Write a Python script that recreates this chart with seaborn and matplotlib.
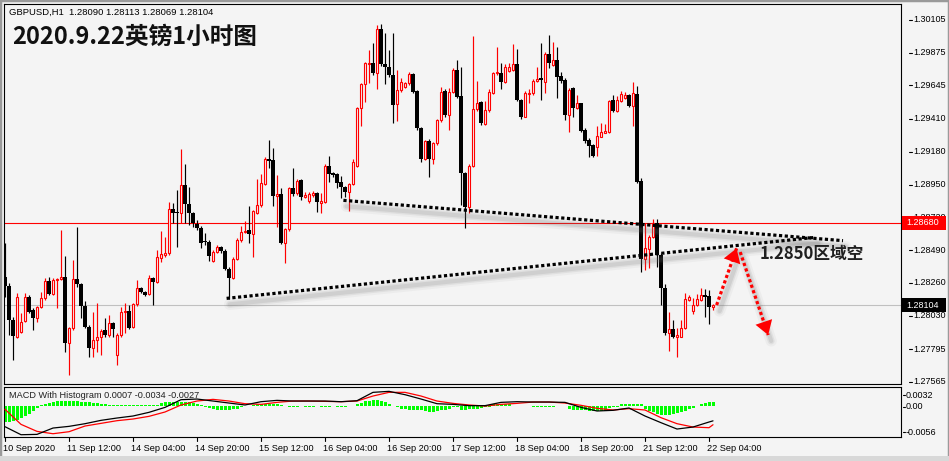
import matplotlib
matplotlib.use("Agg")
import matplotlib.pyplot as plt
import matplotlib.transforms as mtransforms
from matplotlib.patches import Rectangle
import numpy as np
import pandas as pd
import seaborn as sns

# ------------------------------------------------------------------ data
OPEN = [1.28298, 1.28238, 1.27999, 1.27882, 1.27912, 1.27994, 1.28158, 1.28069, 1.28015, 1.28088,
        1.28151, 1.28273, 1.28182, 1.28278, 1.28289, 1.28303, 1.27835, 1.27941, 1.28285, 1.28249,
        1.28097, 1.27952, 1.27805, 1.27859, 1.27877, 1.27929, 1.27894, 1.27976, 1.27753, 1.27894,
        1.28053, 1.28062, 1.27952, 1.28109, 1.28221, 1.28198, 1.28182, 1.28292, 1.28268, 1.28432,
        1.28455, 1.28467, 1.28776, 1.28755, 1.28748, 1.28947, 1.28811, 1.28748, 1.28673, 1.28643,
        1.28556, 1.28549, 1.28416, 1.28474, 1.28509, 1.28486, 1.28359, 1.28296, 1.28425, 1.28561,
        1.28617, 1.28631, 1.28600, 1.28753, 1.28804, 1.28951, 1.29127, 1.29122, 1.28870, 1.28883,
        1.28537, 1.28636, 1.28926, 1.28888, 1.28982, 1.28865, 1.28834, 1.28877, 1.28893, 1.28823,
        1.28830, 1.29082, 1.29029, 1.29024, 1.28965, 1.28930, 1.28900, 1.28954, 1.29082, 1.29485,
        1.29656, 1.29796, 1.29806, 1.29731, 1.30040, 1.29794, 1.29777, 1.29717, 1.29513, 1.29614,
        1.29632, 1.29660, 1.29726, 1.29607, 1.29345, 1.29127, 1.29258, 1.29127, 1.29239, 1.29403,
        1.29609, 1.29438, 1.29602, 1.29754, 1.29572, 1.29033, 1.28790, 1.29082, 1.29478, 1.29529,
        1.29375, 1.29473, 1.29595, 1.29731, 1.29731, 1.29672, 1.29747, 1.29754, 1.29796, 1.29543,
        1.29426, 1.29586, 1.29590, 1.29677, 1.29700, 1.29672, 1.29866, 1.29789, 1.29824, 1.29712,
        1.29684, 1.29438, 1.29625, 1.29485, 1.29520, 1.29333, 1.29263, 1.29228, 1.29216, 1.29286,
        1.29314, 1.29316, 1.29543, 1.29469, 1.29536, 1.29560, 1.29576, 1.29501, 1.29586, 1.28977,
        1.28427, 1.28495, 1.28584, 1.28677, 1.28455, 1.28221, 1.27905, 1.27933, 1.27882, 1.27882,
        1.27940, 1.28139, 1.28064, 1.28104, 1.28139, 1.28174, 1.28167, 1.28090]
HIGH = [1.28537, 1.28256, 1.28022, 1.28186, 1.28046, 1.28186, 1.28172, 1.28081, 1.28097, 1.28198,
        1.28292, 1.28303, 1.28292, 1.28292, 1.28631, 1.28448, 1.27952, 1.28420, 1.28654, 1.28261,
        1.28135, 1.27964, 1.28057, 1.28116, 1.27934, 1.28011, 1.28034, 1.27987, 1.27905, 1.28093,
        1.28116, 1.28104, 1.28116, 1.28280, 1.28233, 1.28205, 1.28315, 1.28303, 1.28490, 1.28626,
        1.28584, 1.28830, 1.28818, 1.28912, 1.29197, 1.29094, 1.28935, 1.28760, 1.28701, 1.28659,
        1.28607, 1.28561, 1.28490, 1.28526, 1.28519, 1.28500, 1.28369, 1.28439, 1.28572, 1.28661,
        1.28694, 1.28799, 1.28771, 1.28987, 1.29024, 1.29146, 1.29263, 1.29209, 1.29015, 1.28923,
        1.28643, 1.28935, 1.29066, 1.28987, 1.28987, 1.28900, 1.28900, 1.28907, 1.28900, 1.28888,
        1.29094, 1.29150, 1.29040, 1.29033, 1.29010, 1.28940, 1.28963, 1.29127, 1.29497, 1.29665,
        1.29813, 1.29894, 1.29946, 1.30070, 1.30077, 1.30011, 1.29894, 1.30011, 1.29754, 1.29696,
        1.29672, 1.29742, 1.29731, 1.29614, 1.29356, 1.29263, 1.29267, 1.29251, 1.29412, 1.29637,
        1.29618, 1.29625, 1.29771, 1.29824, 1.29777, 1.29040, 1.29094, 1.29993, 1.29677, 1.29539,
        1.29539, 1.29618, 1.29742, 1.29918, 1.29801, 1.29794, 1.29801, 1.29937, 1.29899, 1.29553,
        1.29609, 1.29618, 1.29689, 1.29777, 1.29946, 1.29883, 1.29997, 1.29953, 1.29918, 1.29742,
        1.29696, 1.29625, 1.29637, 1.29579, 1.29525, 1.29345, 1.29274, 1.29235, 1.29361, 1.29380,
        1.29375, 1.29543, 1.29579, 1.29572, 1.29609, 1.29602, 1.29586, 1.29672, 1.29642, 1.28993,
        1.28677, 1.28596, 1.28706, 1.28706, 1.28467, 1.28252, 1.28057, 1.27999, 1.27940, 1.27999,
        1.28191, 1.28174, 1.28151, 1.28181, 1.28221, 1.28214, 1.28209, 1.28113]
LOW = [1.28163, 1.27894, 1.27718, 1.27870, 1.27905, 1.27987, 1.28046, 1.27929, 1.27987, 1.28081,
       1.28139, 1.28175, 1.28175, 1.28081, 1.28280, 1.27777, 1.27613, 1.27929, 1.28233, 1.28011,
       1.27941, 1.27742, 1.27737, 1.27777, 1.27753, 1.27882, 1.27882, 1.27882, 1.27683, 1.27882,
       1.27905, 1.27934, 1.27941, 1.28097, 1.28186, 1.28168, 1.28175, 1.28104, 1.28256, 1.28409,
       1.28439, 1.28455, 1.28678, 1.28514, 1.28678, 1.28678, 1.28666, 1.28654, 1.28631, 1.28507,
       1.28526, 1.28416, 1.28409, 1.28467, 1.28472, 1.28350, 1.28144, 1.28285, 1.28420, 1.28549,
       1.28607, 1.28537, 1.28439, 1.28743, 1.28795, 1.28947, 1.29064, 1.28802, 1.28654, 1.28533,
       1.28402, 1.28626, 1.28870, 1.28877, 1.28841, 1.28853, 1.28823, 1.28865, 1.28755, 1.28748,
       1.28823, 1.28970, 1.29005, 1.28923, 1.28853, 1.28865, 1.28767, 1.28947, 1.29075, 1.29361,
       1.29532, 1.29660, 1.29719, 1.29618, 1.29782, 1.29653, 1.29707, 1.29380, 1.29398, 1.29602,
       1.29625, 1.29649, 1.29590, 1.29333, 1.29111, 1.29122, 1.29005, 1.29092, 1.29228, 1.29391,
       1.29426, 1.29333, 1.29590, 1.29555, 1.28806, 1.28643, 1.28748, 1.29075, 1.29469, 1.29368,
       1.29368, 1.29462, 1.29586, 1.29719, 1.29623, 1.29665, 1.29740, 1.29747, 1.29536, 1.29408,
       1.29422, 1.29525, 1.29581, 1.29670, 1.29543, 1.29590, 1.29771, 1.29782, 1.29555, 1.29660,
       1.29403, 1.29321, 1.29426, 1.29478, 1.29321, 1.29244, 1.29146, 1.29141, 1.29150, 1.29281,
       1.29309, 1.29309, 1.29462, 1.29462, 1.29529, 1.29553, 1.29492, 1.29361, 1.28963, 1.28338,
       1.28350, 1.28362, 1.28572, 1.28373, 1.28104, 1.27894, 1.27784, 1.27870, 1.27741, 1.27877,
       1.27933, 1.28135, 1.28041, 1.28097, 1.28135, 1.28022, 1.27968, 1.28069]
CLOSE = [1.28238, 1.27999, 1.27887, 1.28158, 1.27987, 1.28158, 1.28057, 1.28015, 1.28088, 1.28151,
         1.28273, 1.28182, 1.28280, 1.28285, 1.28303, 1.27835, 1.27941, 1.28285, 1.28249, 1.28097,
         1.27952, 1.27805, 1.27859, 1.27877, 1.27922, 1.27894, 1.27976, 1.27938, 1.27894, 1.28053,
         1.28062, 1.27945, 1.28109, 1.28221, 1.28198, 1.28175, 1.28292, 1.28268, 1.28439, 1.28462,
         1.28467, 1.28776, 1.28753, 1.28748, 1.28947, 1.28811, 1.28748, 1.28678, 1.28643, 1.28542,
         1.28544, 1.28448, 1.28474, 1.28509, 1.28486, 1.28355, 1.28296, 1.28425, 1.28561, 1.28619,
         1.28624, 1.28600, 1.28762, 1.28804, 1.28958, 1.29127, 1.29117, 1.28872, 1.28883, 1.28537,
         1.28636, 1.28926, 1.28881, 1.28977, 1.28865, 1.28877, 1.28883, 1.28893, 1.28825, 1.28834,
         1.29082, 1.29024, 1.29017, 1.28963, 1.28930, 1.28900, 1.28954, 1.29106, 1.29485, 1.29656,
         1.29801, 1.29806, 1.29731, 1.30040, 1.29794, 1.29777, 1.29717, 1.29508, 1.29614, 1.29670,
         1.29660, 1.29726, 1.29602, 1.29345, 1.29127, 1.29258, 1.29127, 1.29244, 1.29403, 1.29602,
         1.29438, 1.29602, 1.29754, 1.29562, 1.29033, 1.28790, 1.29082, 1.29478, 1.29525, 1.29380,
         1.29473, 1.29602, 1.29735, 1.29742, 1.29672, 1.29777, 1.29777, 1.29796, 1.29543, 1.29426,
         1.29590, 1.29595, 1.29679, 1.29689, 1.29684, 1.29866, 1.29801, 1.29824, 1.29707, 1.29679,
         1.29438, 1.29614, 1.29485, 1.29520, 1.29328, 1.29256, 1.29221, 1.29150, 1.29294, 1.29319,
         1.29323, 1.29539, 1.29469, 1.29543, 1.29586, 1.29576, 1.29501, 1.29595, 1.28970, 1.28427,
         1.28502, 1.28584, 1.28677, 1.28455, 1.28221, 1.27905, 1.27933, 1.27877, 1.27891, 1.27940,
         1.28144, 1.28158, 1.28104, 1.28144, 1.28174, 1.28163, 1.28088, 1.28104]

time_tick_bars = [0, 16, 32, 48, 64, 80, 96, 112, 128, 144, 160, 176]
time_labels = ["10 Sep 2020", "11 Sep 12:00", "14 Sep 04:00", "14 Sep 20:00", "15 Sep 12:00",
               "16 Sep 04:00", "16 Sep 20:00", "17 Sep 12:00", "18 Sep 04:00", "18 Sep 20:00",
               "21 Sep 12:00", "22 Sep 04:00"]
price_ticks = [1.30105, 1.29875, 1.29645, 1.29410, 1.29180, 1.28950, 1.28720, 1.28490,
               1.28260, 1.28030, 1.27795, 1.27565]
macd_ticks = ["0.0032", "0.00", "-0.0056"]

macd_bars = [0, 4, 8, 12, 16, 20, 24, 28, 32, 36, 40, 44, 48, 52, 56, 60, 64, 68, 72, 76, 80, 84,
             88, 92, 96, 100, 104, 108, 112, 116, 120, 124, 128, 132, 136, 140, 144, 148, 152,
             156, 160, 164, 168, 172, 176, 177]
macd_black = [-0.00375, -0.00519, -0.00513, -0.00399, -0.00369, -0.00321, -0.00261, -0.00219,
              -0.00183, -0.00117, -0.00028, 0.00110, 0.00122, 0.00086, 0.00050, 0.00015, 0.00074,
              0.00098, 0.00086, 0.00086, 0.00086, 0.00074, 0.00092, 0.00242, 0.00260, 0.00200,
              0.00122, 0.00038, 0.00026, 0.00003, 0.00003, 0.00062, 0.00074, 0.00068, 0.00068,
              0.00062, -0.00028, -0.00093, -0.00081, -0.00039, -0.00183, -0.00303, -0.00417,
              -0.00381, -0.00291, -0.00270]
macd_red = [-0.00063, -0.00333, -0.00459, -0.00501, -0.00465, -0.00363, -0.00315, -0.00267,
            -0.00237, -0.00189, -0.00111, 0.00015, 0.00086, 0.00116, 0.00086, 0.00038, 0.00026,
            0.00062, 0.00086, 0.00086, 0.00080, 0.00074, 0.00086, 0.00176, 0.00242, 0.00242,
            0.00176, 0.00086, 0.00044, 0.00015, -0.00004, 0.00026, 0.00044, 0.00068, 0.00068,
            0.00050, 0.00009, -0.00045, -0.00075, -0.00051, -0.00075, -0.00213, -0.00321,
            -0.00381, -0.00393, -0.00340]
macd_hist = [-0.0029, -0.0029, -0.0027, -0.0025, -0.0022, -0.0019, -0.0015, -0.0010, -0.0004,
             0.0002, 0.0004, 0.0005, 0.0007, 0.0008,
             0.0008, 0.0008, 0.0008, 0.0008, 0.0008,
             0.0007, 0.0007, 0.0007,
             0.0005, 0.0005, 0.0004,
             0.0003, 0.0002, 0.0002,
             0.0001, 0.0001, 0.0001, 0.0001, 0.0001, 0.0001, 0.0001, 0.0001, 0.0001, 0.0001, 0.0001,
             0.0005, 0.0006, 0.0006, 0.0007, 0.0007, 0.0007, 0.0006, 0.0006, 0.0005,
             0.0003, 0.0001,
             -0.0002, -0.0004,
             -0.0006, -0.0007, -0.0007, -0.0007, -0.0007, -0.0006, -0.0005,
             -0.0003, -0.0001, 0.0000, 0.0001,
             0.0003, 0.0004, 0.0004, 0.0004, 0.0004, 0.0003,
             0.0001, 0.0000,
             -0.0002, -0.0002, -0.0002, -0.0001, -0.0002, -0.0002, -0.0002, -0.0001, -0.0002,
             -0.0002, -0.0002, -0.0001, -0.0002, -0.0002, -0.0002, -0.0001, -0.0001,
             0.0004, 0.0005, 0.0008, 0.0009, 0.0010, 0.0010, 0.0008, 0.0007, 0.0003,
             -0.0001, -0.0002, -0.0005, -0.0005,
             -0.0007, -0.0007, -0.0007, -0.0007,
             -0.0010, -0.0011, -0.0011, -0.0010,
             -0.0008, -0.0007, -0.0006,
             -0.0002, -0.0002,
             -0.0007, -0.0007, -0.0006,
             -0.0005, -0.0005, -0.0004,
             -0.0003, -0.0002,
             0.0004, 0.0004, 0.0004, 0.0004, 0.0004,
             -0.0001, -0.0001, -0.0001, -0.0001, -0.0001,
             -0.0002, -0.0002, -0.0002, -0.0002, -0.0002, -0.0002,
             -0.0001, -0.0001, -0.0001,
             -0.0006, -0.0007, -0.0008, -0.0008, -0.0008,
             -0.0009, -0.0009, -0.0009, -0.0009, -0.0009,
             -0.0004, -0.0003, -0.0002,
             0.0003, 0.0004, 0.0004, 0.0004, 0.0004, 0.0003,
             -0.0006, -0.0009, -0.0011,
             -0.0014, -0.0016, -0.0016, -0.0016, -0.0015,
             -0.0013, -0.0011, -0.0010,
             -0.0006, -0.0004,
             0.0000,
             0.0004, 0.0005, 0.0006, 0.0007]

level_red = 1.28680
level_last = 1.28104
header_text = "GBPUSD,H1  1.28090 1.28113 1.28069 1.28104"
macd_text = "MACD With Histogram 0.0007 -0.0034 -0.0027"
title_text = "2020.9.22英镑1小时图"
note_text = "1.2850区域空"
note_pos = (188.6, 1.28465)

trend_upper_x = [84.6, 209.5]
trend_upper_y = [1.28839, 1.28556]
trend_lower_x = [55.4, 202.5]
trend_lower_y = [1.28151, 1.28579]
arrow_up_x = [177.9, 182.9]
arrow_up_y = [1.28104, 1.28502]
arrow_down_x = [183.8, 190.8]
arrow_down_y = [1.28476, 1.27894]

# ------------------------------------------------------------------ style
sns.set_theme(style="white")
plt.rcParams["font.family"] = ["Liberation Sans", "DejaVu Sans"]
BG = "#F4F4F4"
W, H = 949, 461
fig = plt.figure(figsize=(W / 100, H / 100), dpi=100, facecolor=BG)


def fx(px):
    return px / W


def fy(py):
    return 1 - py / H


ax = fig.add_axes([fx(4), fy(384), fx(901) - fx(4), fy(4) - fy(384)])
axm = fig.add_axes([fx(4), fy(437), fx(901) - fx(4), fy(387) - fy(437)])
for a in (ax, axm):
    a.set_facecolor(BG)
    a.set_xlim(-0.25, 224)
    a.set_xticks([])
    a.set_yticks([])
    for s in a.spines.values():
        s.set_color("black")
        s.set_linewidth(0.8)
ax.set_ylim(1.27550, 1.30217)
axm.set_ylim(-0.0056, 0.00338)

# ------------------------------------------------------------------ candles
o, h, l, c = map(np.array, (OPEN, HIGH, LOW, CLOSE))
idx = np.arange(len(o))
up = c > o
wick_col = np.where(up, "#FF0000", "#000000")
ax.vlines(idx, l, h, colors=wick_col, linewidth=0.85, zorder=3)
ax.bar(idx[~up], np.maximum((o - c)[~up], 0.00006), bottom=c[~up], width=0.8,
       color="black", linewidth=0, zorder=4)
ax.bar(idx[up], np.maximum((c - o)[up], 0.00003), bottom=o[up], width=0.5,
       facecolor=BG, edgecolor="#FF0000", linewidth=0.8, zorder=4)

ax.axhline(level_red, color="#FF0000", lw=0.8, zorder=2)
ax.axhline(level_last, color="#C0C0C0", lw=0.8, zorder=1)

# ------------------------------------------------------------------ trend lines (dotted with soft shadow)
shadow = mtransforms.offset_copy(ax.transData, fig=fig, x=3, y=-6, units="dots")
for xs, ys in ((trend_upper_x, trend_upper_y), (trend_lower_x, trend_lower_y)):
    for lw, al in ((8, 0.06), (5, 0.10), (3, 0.14)):
        ax.plot(xs, ys, color="#707070", lw=lw, alpha=al, transform=shadow,
                solid_capstyle="round", zorder=5)
    ax.plot(xs, ys, color="black", lw=2.3, linestyle=(0, (1, 0.8)),
            dash_capstyle="butt", zorder=6)

for xs, ys in ((arrow_up_x, arrow_up_y), (arrow_down_x, arrow_down_y)):
    for lw, al in ((8, 0.06), (5, 0.10), (3, 0.14)):
        ax.plot(xs, ys, color="#707070", lw=lw, alpha=al, transform=shadow,
                solid_capstyle="round", zorder=5)
    ax.plot(xs, ys, color="#FF0000", lw=2.3, linestyle=(0, (1, 0.8)),
            dash_capstyle="butt", zorder=6)
    ax.annotate("", xy=(xs[1], ys[1]), xytext=(xs[0], ys[0]),
                arrowprops=dict(arrowstyle="-|>,head_length=0.55,head_width=0.35",
                                color="#FF0000", lw=0, mutation_scale=18,
                                shrinkA=0, shrinkB=0), zorder=7)

ax.text(note_pos[0], note_pos[1], note_text, fontsize=12, fontweight="bold", color="#202020",
        family=["Noto Sans CJK SC", "DejaVu Sans"], va="center", ha="left", zorder=8)

# ------------------------------------------------------------------ MACD panel
df_m = pd.DataFrame({"bar": macd_bars, "black": macd_black, "red": macd_red})
axm.bar(idx, macd_hist, width=0.75, color="#00FF00", linewidth=0, zorder=2)
sns.lineplot(data=df_m, x="bar", y="red", ax=axm, color="#FF0000", lw=0.9, zorder=3)
sns.lineplot(data=df_m, x="bar", y="black", ax=axm, color="black", lw=0.9, zorder=4)
axm.set_xlabel("")
axm.set_ylabel("")
axm.set_xlim(-0.25, 224)
axm.set_xticks([])
axm.set_yticks([])
fig.text(fx(9), fy(396), macd_text, fontsize=6.6, va="center", ha="left", color="#202020")

# ------------------------------------------------------------------ price scale
tr = mtransforms.blended_transform_factory(ax.transAxes, ax.transData)
ax_w = 897.0
for v in price_ticks:
    ax.plot([(909 - 4) / ax_w, (912 - 4) / ax_w], [v, v], color="black", lw=0.8,
            transform=tr, clip_on=False, zorder=5)
    ax.text((913 - 4) / ax_w, v, "%.5f" % v, transform=tr, fontsize=6.5, va="center",
            ha="left", color="black", clip_on=False, zorder=5)

for val, fc in ((level_red, "#FF0000"), (level_last, "black")):
    ax.add_patch(Rectangle(((902 - 4) / ax_w, val - 0.00049), 44 / ax_w, 0.00098,
                           transform=tr, facecolor=fc, edgecolor="none", clip_on=False,
                           zorder=8))
    ax.text((906 - 4) / ax_w, val, "%.5f" % val, transform=tr, fontsize=6.5, va="center",
            ha="left", color="white", clip_on=False, zorder=9)

trm = mtransforms.blended_transform_factory(axm.transAxes, fig.transFigure)
for lab, py in zip(macd_ticks, (395, 406.5, 432)):
    axm.plot([(903 - 4) / ax_w, (905 - 4) / ax_w], [fy(py), fy(py)], color="black", lw=0.8,
             transform=trm, clip_on=False)
    axm.text((906 - 4) / ax_w, fy(py), lab, transform=trm, fontsize=6.5, va="center",
             ha="left", color="black", clip_on=False)

# ------------------------------------------------------------------ time scale
trt = mtransforms.blended_transform_factory(axm.transData, fig.transFigure)
for b, lab in zip(time_tick_bars, time_labels):
    axm.plot([b, b], [fy(437), fy(441)], color="black", lw=0.8, transform=trt, clip_on=False)
    axm.text(b - 0.5, fy(448), lab, transform=trt, fontsize=6.6, va="center", ha="left",
             color="black", clip_on=False)

# ------------------------------------------------------------------ header / title
fig.text(fx(9), fy(12), header_text, fontsize=6.8, va="center", ha="left", color="black")
fig.text(fx(12), fy(37), title_text, fontsize=17, fontweight="bold", va="center", ha="left",
         color="#111111", family=["Noto Sans CJK SC", "DejaVu Sans"])

# window frame
fig.patches.append(Rectangle((0, 0), 1, 1, transform=fig.transFigure, fill=False,
                             edgecolor="#9A9A9A", linewidth=2.5))
fig.patches.append(Rectangle((0, 0), 1, fy(456), transform=fig.transFigure,
                             facecolor="#D8D8D8", edgecolor="none"))

fig.savefig("out.png", dpi=100, facecolor=BG)
